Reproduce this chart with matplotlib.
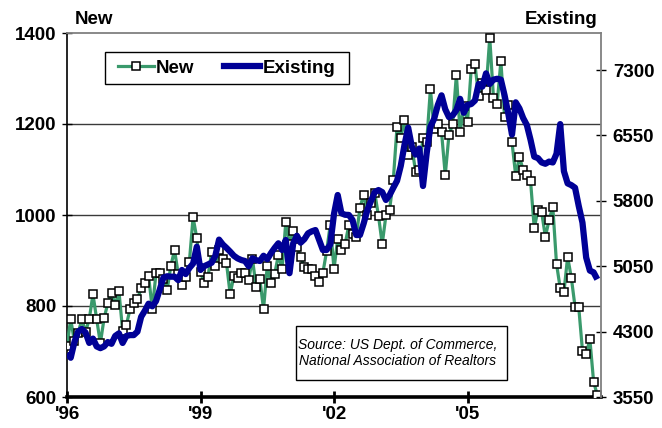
import matplotlib
matplotlib.use('Agg')
import matplotlib.pyplot as plt
import numpy as np
from matplotlib.lines import Line2D
from matplotlib.patches import Rectangle

# ---------------- data (monthly, Jan 1996 - Dec 2007) ----------------
start_year = 1996
new_sales = [
    713, 771, 722, 740, 771, 743, 771, 826, 771, 718, 773, 806,      # 1996
    829, 802, 833, 746, 758, 793, 806, 815, 839, 850, 866, 793,      # 1997
    872, 872, 860, 835, 888, 923, 870, 846, 864, 897, 995, 949,      # 1998
    875, 850, 863, 919, 888, 922, 903, 895, 826, 866, 862, 873,      # 1999
    873, 857, 904, 842, 859, 793, 888, 850, 870, 912, 881, 984,      # 2000
    936, 965, 930, 908, 885, 881, 881, 866, 853, 873, 920, 979,      # 2001
    881, 948, 923, 936, 978, 959, 952, 1016, 1045, 1000, 1026, 1048, # 2002
    998, 936, 999, 1012, 1078, 1194, 1170, 1208, 1132, 1150, 1095, 1100,  # 2003
    1169, 1161, 1277, 1188, 1200, 1182, 1088, 1176, 1200, 1308, 1182, 1240,  # 2004
    1205, 1321, 1331, 1262, 1290, 1274, 1390, 1258, 1245, 1338, 1215, 1242,  # 2005
    1160, 1086, 1128, 1099, 1088, 1075, 971, 1011, 1006, 952, 989, 1018,     # 2006
    893, 839, 830, 908, 862, 798, 797, 702, 694, 727, 634, 604,              # 2007
]
existing_sales = [
    4050, 4000, 4180, 4300, 4330, 4290, 4170, 4220, 4130, 4110, 4130, 4180,  # 1996
    4160, 4250, 4280, 4170, 4250, 4260, 4260, 4300, 4470, 4540, 4620, 4590,  # 1997
    4650, 4780, 4920, 4935, 4930, 4930, 4890, 5007, 4960, 5030, 5080, 5274,  # 1998
    5007, 5050, 5070, 5090, 5170, 5355, 5300, 5260, 5217, 5170, 5140, 5121,  # 1999
    5110, 5050, 5141, 5120, 5110, 5170, 5130, 5200, 5260, 5313, 5236, 5351,  # 2000
    4970, 5313, 5400, 5320, 5360, 5427, 5450, 5465, 5351, 5236, 5236, 5300,  # 2001
    5650, 5867, 5657, 5640, 5638, 5580, 5408, 5408, 5540, 5695, 5800, 5900,  # 2002
    5924, 5900, 5810, 5867, 5950, 6030, 6200, 6440, 6640, 6420, 6330, 6400,  # 2003
    5970, 6350, 6650, 6740, 6899, 7010, 6850, 6760, 6780, 6840, 6970, 6810,  # 2004
    6899, 6910, 6950, 7140, 7110, 7262, 7140, 7190, 7200, 7190, 7010, 6800,  # 2005
    6560, 6930, 6860, 6750, 6670, 6500, 6306, 6290, 6240, 6225, 6250, 6240,  # 2006
    6340, 6680, 6140, 6000, 5980, 5950, 5740, 5550, 5150, 5000, 4980, 4900,  # 2007
]
x_ticks = [1996, 1999, 2002, 2005]
x_tick_labels = ["'96", "'99", "'02", "'05"]
left_ticks = [600, 800, 1000, 1200, 1400]
right_ticks = [3550, 4300, 5050, 5800, 6550, 7300]
series_names = ["New", "Existing"]
source_text = "Source: US Dept. of Commerce,\nNational Association of Realtors"

months = start_year + np.arange(len(new_sales)) / 12.0

plt.rcParams['font.family'] = ['Liberation Sans', 'DejaVu Sans']

W, H = 662, 428
fig = plt.figure(figsize=(W / 100, H / 100), dpi=100)
L, R, T, B = 67, 601, 33, 397
ax = fig.add_axes([L / W, 1 - B / H, (R - L) / W, (B - T) / H])
ax.set_xlim(1996, 2008)
ax.set_ylim(600, 1400)
ax2 = ax.twinx()
ax2.set_ylim(3550, 7725)

green = '#3a9a6c'
blue = '#000096'

for yv in [800, 1000, 1200]:
    ax.axhline(yv, color='#3a3a3a', lw=1.0, zorder=1)

ax.plot(months, new_sales, color=green, lw=2.3, marker='s', ms=5.5,
        mfc='white', mec='black', mew=1.1, zorder=3)
ax2.plot(months, existing_sales, color=blue, lw=4.5,
         solid_joinstyle='round', solid_capstyle='butt', zorder=3)

# spines
for a in (ax, ax2):
    for s in a.spines.values():
        s.set_visible(False)
ax.spines['left'].set_visible(True)
ax.spines['left'].set_color('black')
ax.spines['left'].set_linewidth(1.2)
ax.spines['bottom'].set_visible(True)
ax.spines['bottom'].set_color('black')
ax.spines['bottom'].set_linewidth(2.6)
ax.spines['top'].set_visible(True)
ax.spines['top'].set_color('#808080')
ax.spines['top'].set_linewidth(1.3)
ax2.spines['right'].set_visible(True)
ax2.spines['right'].set_color('#808080')
ax2.spines['right'].set_linewidth(1.3)

fs = 13.5
ax.set_xticks(x_ticks)
ax.set_xticklabels(x_tick_labels, fontsize=fs, fontweight='bold')
ax.tick_params(axis='x', direction='inout', length=9, width=2.0, pad=2)
ax.set_yticks(left_ticks)
ax.set_yticklabels([str(v) for v in left_ticks], fontsize=fs, fontweight='bold')
ax.tick_params(axis='y', direction='inout', length=7, width=1.0, pad=4)
ax2.set_yticks(right_ticks)
ax2.set_yticklabels([str(v) for v in right_ticks], fontsize=fs, fontweight='bold')
ax2.tick_params(axis='y', direction='inout', length=7, width=1.0, pad=5)

# axis titles
fig.text(75 / W, 1 - 19.5 / H, series_names[0], fontsize=fs, fontweight='bold',
         ha='left', va='center')
fig.text(598 / W, 1 - 19.5 / H, series_names[1], fontsize=fs, fontweight='bold',
         ha='right', va='center')

# legend (frame drawn separately, below the legend)
ax2.add_patch(Rectangle((104.5 / W, 1 - 84 / H), (349 - 104.5) / W, (84 - 52) / H,
                        transform=fig.transFigure, fc='white', ec='black',
                        lw=1.0, zorder=5, clip_on=False))
handles = [
    Line2D([0], [0], color=green, lw=2.3, marker='s', ms=5.5, mfc='white',
           mec='black', mew=1.1),
    Line2D([0], [0], color=blue, lw=4.5),
]
leg = ax2.legend(handles, series_names, loc='center left',
                 bbox_to_anchor=(118 / W, 1 - 68 / H),
                 bbox_transform=fig.transFigure, ncol=2, frameon=False,
                 prop={'size': fs, 'weight': 'bold'}, handlelength=1.9,
                 handletextpad=0.12, columnspacing=1.6, borderpad=0,
                 borderaxespad=0)
leg.set_zorder(7)

# source box
ax2.add_patch(Rectangle((296 / W, 1 - 380 / H), (507 - 296) / W, (380 - 326) / H,
                        transform=fig.transFigure, fc='white', ec='black',
                        lw=1.0, zorder=5, clip_on=False))
ax2.text(398 / W, 1 - 353 / H, source_text, transform=fig.transFigure,
         fontsize=10, fontstyle='italic', ha='center', va='center',
         linespacing=1.15, zorder=6)

fig.savefig('out.png', dpi=100)
